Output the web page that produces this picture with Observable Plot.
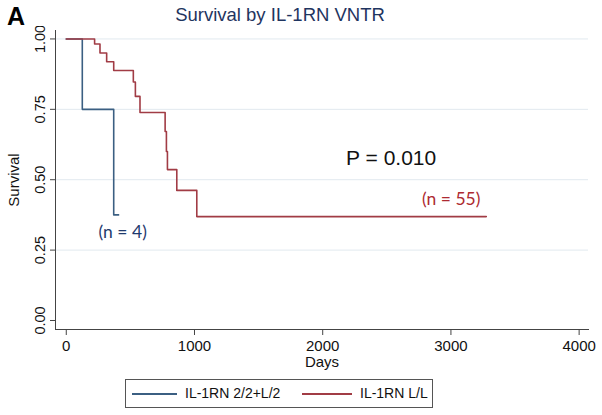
<!DOCTYPE html>
<html>
<head>
<meta charset="utf-8">
<script src="https://cdn.jsdelivr.net/npm/d3@7"></script>
<script src="https://cdn.jsdelivr.net/npm/@observablehq/plot@0.6"></script>
<style>
  html, body { margin: 0; padding: 0; background: #fff; }
  #wrap { position: relative; width: 602px; height: 415px; font-family: "Liberation Sans", Arial, sans-serif; overflow: hidden; }
  #panel { position: absolute; left: 7px; top: 2px; font-size: 25px; font-weight: bold; color: #000; }
  #title { position: absolute; left: 0; width: 560px; top: 4px; text-align: center; font-size: 18.5px; color: #1f3560; }
  #chart { position: absolute; left: 0; top: 26px; }
  #legend { position: absolute; left: 125px; top: 379px; width: 306px; height: 27px; border: 1px solid #555; box-sizing: content-box; }
  .sw { position: absolute; top: 13px; height: 0; border-top: 2px solid; }
  .lt { position: absolute; top: 5px; font-size: 14px; color: #111; white-space: nowrap; }
</style>
</head>
<body>
<div id="wrap">
  <div id="panel">A</div>
  <div id="title">Survival by IL-1RN VNTR</div>
  <div id="chart"></div>
  <div id="legend">
    <div class="sw" style="left:6px;width:45px"></div>
    <div class="lt" style="left:59px">IL-1RN 2/2+L/2</div>
    <div class="sw" style="left:176px;width:50px"></div>
    <div class="lt" style="left:234px">IL-1RN L/L</div>
  </div>
</div>
<script>
// Kaplan–Meier step points (days, survival)
const seriesNames = ["IL-1RN 2/2+L/2", "IL-1RN L/L"];
const blueDays = [0, 125, 370, 408];
const blueSurv = [1.0, 0.75, 0.375, 0.375];
const redDays = [0, 221, 263, 315, 370, 523, 539, 575, 771, 781, 789, 862, 1018, 3276];
const redSurv = [1.0, 0.982, 0.95, 0.919, 0.888, 0.847, 0.796, 0.739, 0.671, 0.600, 0.536, 0.462, 0.369, 0.369];
const xTicks = [0, 1000, 2000, 3000, 4000];
const yTicks = [0, 0.25, 0.5, 0.75, 1];
const gridValues = [0.25, 0.5, 0.75, 1];
const colors = ["#3b5f82", "#a13c45"];
const xDomain = [-84, 4073];
const yDomain = [-0.032, 1.03];
const annotations = [
  {days: 440, surv: 0.313, text: "(n = 4)", color: "#1f3a6e"},
  {days: 3002, surv: 0.43, text: "(n = 55)", color: "#ad2a31"},
];
const pText = {days: 2534, surv: 0.575, text: "P = 0.010"};

const data = [
  ...blueDays.map((d, i) => ({days: d, surv: blueSurv[i], group: seriesNames[0]})),
  ...redDays.map((d, i) => ({days: d, surv: redSurv[i], group: seriesNames[1]})),
];

document.querySelectorAll(".sw").forEach((el, i) => { el.style.borderColor = colors[i]; });

const chart = Plot.plot({
  width: 602,
  height: 346,
  marginLeft: 55,
  marginRight: 14,
  marginTop: 4,
  marginBottom: 43,
  style: {fontFamily: "'Liberation Sans', Arial, sans-serif", fontSize: "15px", color: "#111", background: "transparent"},
  x: {domain: xDomain},
  y: {domain: yDomain},
  color: {domain: seriesNames, range: colors},
  marks: [
    Plot.ruleY(gridValues, {stroke: "#e1e9ef", strokeWidth: 1}),
    Plot.frame({anchor: "left", stroke: "#444"}),
    Plot.frame({anchor: "bottom", stroke: "#444"}),
    Plot.axisX({ticks: xTicks, tickSize: 6, tickPadding: 5, label: null, tickFormat: d => String(d), fontSize: 15, stroke: "#444"}),
    Plot.axisY({ticks: yTicks, tickSize: 5, tickPadding: 6, tickRotate: -90, label: null, tickFormat: d3.format(".2f"), fontSize: 14.5, stroke: "#444"}),
    Plot.lineY(data, {x: "days", y: "surv", z: "group", stroke: "group", curve: "step-after", strokeWidth: 1.6}),
    Plot.text(annotations, {x: "days", y: "surv", text: "text", fill: d => d.color, fontSize: 17.5, fontFamily: "Lato, 'Open Sans', sans-serif"}),
    Plot.text([pText], {x: "days", y: "surv", text: "text", fontSize: 21, fill: "#111"}),
    Plot.text(["Days"], {frameAnchor: "bottom", lineAnchor: "middle", dy: 33, text: d => d, fontSize: 15, fill: "#111"}),
    Plot.text(["Survival"], {frameAnchor: "left", textAnchor: "middle", lineAnchor: "middle", dx: -41, rotate: -90, text: d => d, fontSize: 15, fill: "#111"}),
  ]
});
document.getElementById("chart").appendChild(chart);
</script>
</body>
</html>
